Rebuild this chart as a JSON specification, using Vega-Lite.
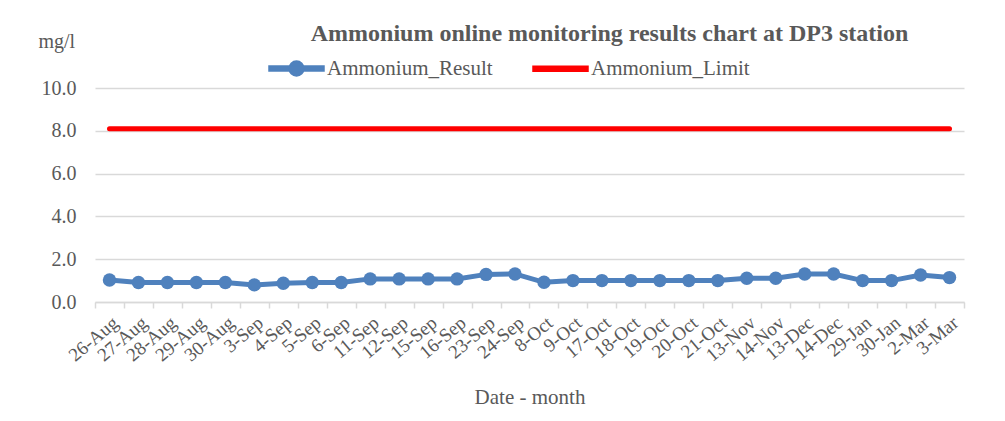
{
  "$schema": "https://vega.github.io/schema/vega-lite/v6.json",
  "autosize": "none",
  "width": 869,
  "height": 214,
  "padding": {"left": 95, "top": 88, "right": 41, "bottom": 119},
  "background": "white",
  "config": {"view": {"stroke": null}, "font": "Liberation Serif"},
  "title": {
    "text": "Ammonium online monitoring results chart at DP3 station",
    "font": "Liberation Serif",
    "fontSize": 24,
    "fontWeight": "bold",
    "color": "#595959",
    "anchor": "middle",
    "frame": "group",
    "dx": 80,
    "offset": -15
  },
  "data": {
    "values": [
      {"date": "26-Aug", "Result": 1.03, "Limit": 8.1},
      {"date": "27-Aug", "Result": 0.91, "Limit": 8.1},
      {"date": "28-Aug", "Result": 0.91, "Limit": 8.1},
      {"date": "29-Aug", "Result": 0.91, "Limit": 8.1},
      {"date": "30-Aug", "Result": 0.91, "Limit": 8.1},
      {"date": "3-Sep", "Result": 0.8, "Limit": 8.1},
      {"date": "4-Sep", "Result": 0.88, "Limit": 8.1},
      {"date": "5-Sep", "Result": 0.91, "Limit": 8.1},
      {"date": "6-Sep", "Result": 0.91, "Limit": 8.1},
      {"date": "11-Sep", "Result": 1.08, "Limit": 8.1},
      {"date": "12-Sep", "Result": 1.08, "Limit": 8.1},
      {"date": "15-Sep", "Result": 1.08, "Limit": 8.1},
      {"date": "16-Sep", "Result": 1.08, "Limit": 8.1},
      {"date": "23-Sep", "Result": 1.29, "Limit": 8.1},
      {"date": "24-Sep", "Result": 1.31, "Limit": 8.1},
      {"date": "8-Oct", "Result": 0.92, "Limit": 8.1},
      {"date": "9-Oct", "Result": 1.0, "Limit": 8.1},
      {"date": "17-Oct", "Result": 1.0, "Limit": 8.1},
      {"date": "18-Oct", "Result": 1.0, "Limit": 8.1},
      {"date": "19-Oct", "Result": 1.0, "Limit": 8.1},
      {"date": "20-Oct", "Result": 1.0, "Limit": 8.1},
      {"date": "21-Oct", "Result": 1.0, "Limit": 8.1},
      {"date": "13-Nov", "Result": 1.11, "Limit": 8.1},
      {"date": "14-Nov", "Result": 1.11, "Limit": 8.1},
      {"date": "13-Dec", "Result": 1.31, "Limit": 8.1},
      {"date": "14-Dec", "Result": 1.31, "Limit": 8.1},
      {"date": "29-Jan", "Result": 1.0, "Limit": 8.1},
      {"date": "30-Jan", "Result": 1.0, "Limit": 8.1},
      {"date": "2-Mar", "Result": 1.26, "Limit": 8.1},
      {"date": "3-Mar", "Result": 1.14, "Limit": 8.1}
    ]
  },
  "encoding": {
    "x": {
      "field": "date",
      "type": "ordinal",
      "sort": null,
      "scale": {"type": "band", "paddingInner": 0, "paddingOuter": 0},
      "axis": {
        "title": "Date - month",
        "titleFont": "Liberation Serif",
        "titleFontSize": 21,
        "titleFontWeight": "normal",
        "titleColor": "#595959",
        "titlePadding": 22,
        "labelAngle": -40,
        "labelFontSize": 19,
        "labelColor": "#595959",
        "labelPadding": 5,
        "labelOverlap": false,
        "domainColor": "#d9d9d9",
        "domainWidth": 1.5,
        "tickColor": "#d9d9d9",
        "tickWidth": 1.5,
        "tickSize": 6,
        "tickBand": "extent",
        "grid": false
      }
    },
    "color": {
      "scale": {"domain": ["Ammonium_Result", "Ammonium_Limit"], "range": ["#4f81bd", "#ff0000"]},
      "legend": {
        "title": null,
        "orient": "none",
        "legendX": 173,
        "legendY": -48,
        "direction": "horizontal",
        "labelFont": "Liberation Serif",
        "labelFontSize": 21,
        "labelColor": "#595959",
        "labelLimit": 0,
        "labelOffset": 2,
        "columnPadding": 37,
        "symbolSize": 3025,
        "encode": {
          "symbols": {
            "update": {
              "shape": {"signal": "datum.value === 'Ammonium_Result' ? 'M-1,-0.09H1V0.09H-1Z M-0.27,0A0.27,0.27 0 1,1 0.27,0A0.27,0.27 0 1,1 -0.27,0Z' : 'M-1,-0.09H1V0.09H-1Z'"},
              "fill": {"scale": "color", "field": "value"},
              "stroke": {"value": "transparent"},
              "size": {"value": 3025},
              "opacity": {"value": 1}
            }
          }
        }
      }
    }
  },
  "layer": [
    {
      "mark": {"type": "line", "strokeWidth": 5, "strokeCap": "round"},
      "encoding": {
        "y": {
          "field": "Limit",
          "type": "quantitative",
          "scale": {"domain": [0, 10]},
          "axis": {
            "values": [0, 2, 4, 6, 8, 10],
            "format": ".1f",
            "domain": false,
            "ticks": false,
            "labelFontSize": 20,
            "labelColor": "#595959",
            "labelPadding": 19,
            "gridColor": "#d9d9d9",
            "gridWidth": 1.5,
            "title": "mg/l",
            "titleAngle": 0,
            "titleAlign": "left",
            "titleBaseline": "alphabetic",
            "titleX": -57,
            "titleY": -41,
            "titleFont": "Liberation Serif",
            "titleFontSize": 20,
            "titleFontWeight": "normal",
            "titleColor": "#595959"
          }
        },
        "color": {"datum": "Ammonium_Limit"}
      }
    },
    {
      "mark": {"type": "line", "strokeWidth": 5},
      "encoding": {
        "y": {"field": "Result", "type": "quantitative"},
        "color": {"datum": "Ammonium_Result"}
      }
    },
    {
      "mark": {"type": "circle", "size": 180, "opacity": 1},
      "encoding": {
        "y": {"field": "Result", "type": "quantitative"},
        "color": {"datum": "Ammonium_Result"}
      }
    }
  ]
}
